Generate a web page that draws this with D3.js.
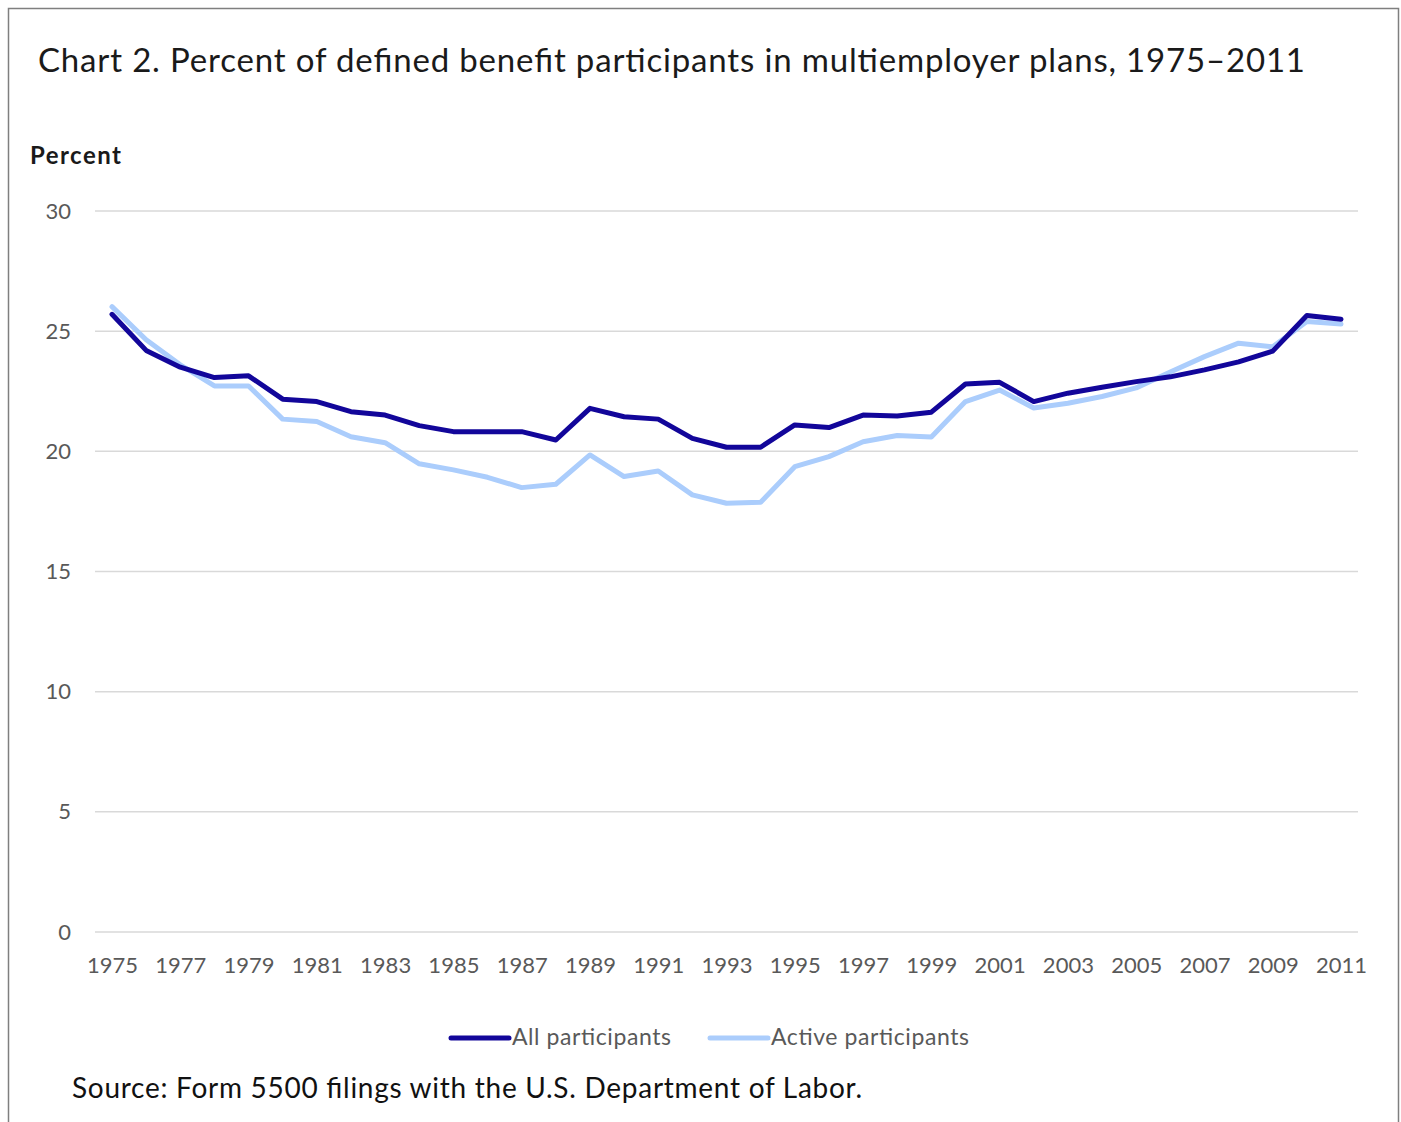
<!DOCTYPE html>
<html>
<head>
<meta charset="utf-8">
<script src="https://cdn.jsdelivr.net/npm/d3@7"></script>
<style>
  body { margin: 0; background: #fff; }
  .axis path { display: none; }
  .axis text { fill: #595959; font-family: Lato, 'Open Sans', sans-serif; font-size: 22px; }
</style>
</head>
<body>
<div id="chart-area"></div>
<script>
// DATA
const years = d3.range(1975, 2012)
const allParticipants = [
  25.7, 24.2, 23.5, 23.07, 23.14, 22.17, 22.07, 21.65, 21.51, 21.07,
  20.82, 20.82, 20.82, 20.47, 21.79, 21.44, 21.34, 20.54, 20.17, 20.17,
  21.1, 20.99, 21.51, 21.47, 21.63, 22.8, 22.87, 22.07, 22.42, 22.67,
  22.9, 23.1, 23.39, 23.72, 24.17, 25.65, 25.5
]
const activeParticipants = [
  26.02, 24.64, 23.6, 22.72, 22.72, 21.34, 21.24, 20.61, 20.36, 19.48,
  19.23, 18.92, 18.49, 18.63, 19.85, 18.95, 19.18, 18.19, 17.84, 17.88,
  19.36, 19.78, 20.4, 20.66, 20.6, 22.07, 22.55, 21.8, 22.0, 22.28,
  22.64, 23.3, 23.94, 24.5, 24.35, 25.4, 25.3
]
const yTicks = [0, 5, 10, 15, 20, 25, 30]
const xTicks = d3.range(1975, 2012, 2)
const seriesNames = ['All participants', 'Active participants']
const seriesColors = ['#12069a', '#abcdfc']

const WIDTH = 1401
const HEIGHT = 1122

const svg = d3.select('#chart-area').append('svg')
  .attr('width', WIDTH)
  .attr('height', HEIGHT)

// frame
svg.append('rect')
  .attr('x', 8.5).attr('y', 8.5)
  .attr('width', 1390).attr('height', 1130)
  .attr('fill', '#fff')
  .attr('stroke', '#7f7f7f')
  .attr('stroke-width', 1.5)

// TITLE
svg.append('text')
  .attr('x', 38)
  .attr('y', 72)
  .attr('font-family', 'Lato, sans-serif')
  .attr('font-size', '33px')
  .attr('fill', '#1a1a1a')
  .attr('textLength', 1267)
  .attr('lengthAdjust', 'spacing')
  .text('Chart 2. Percent of defined benefit participants in multiemployer plans, 1975–2011')

svg.append('text')
  .attr('x', 30)
  .attr('y', 164)
  .attr('font-family', 'Lato, sans-serif')
  .attr('font-weight', 'bold')
  .attr('font-size', '24px')
  .attr('fill', '#1a1a1a')
  .attr('textLength', 91)
  .attr('lengthAdjust', 'spacing')
  .text('Percent')

// SCALES
const x = d3.scaleLinear()
  .domain([1975, 2011])
  .range([112, 1341])
const y = d3.scaleLinear()
  .domain([0, 30])
  .range([932, 211])

// GRIDLINES
svg.append('g')
  .selectAll('line')
  .data(yTicks)
  .enter().append('line')
  .attr('x1', 95).attr('x2', 1358)
  .attr('y1', d => y(d)).attr('y2', d => y(d))
  .attr('stroke', '#d9d9d9')
  .attr('stroke-width', 1.5)

// AXES
const yAxis = d3.axisLeft(y)
  .tickValues(yTicks)
  .tickSize(0)
  .tickPadding(0)
svg.append('g')
  .attr('class', 'axis')
  .attr('transform', 'translate(71, 0)')
  .call(yAxis)

const xAxis = d3.axisBottom(x)
  .tickValues(xTicks)
  .tickFormat(d3.format('d'))
  .tickSize(0)
  .tickPadding(0)
svg.append('g')
  .attr('class', 'axis')
  .attr('transform', 'translate(0, 957)')
  .call(xAxis)

// LINES
const line = d3.line()
  .x((d, i) => x(years[i]))
  .y(d => y(d))

svg.append('path')
  .datum(activeParticipants)
  .attr('d', line)
  .attr('fill', 'none')
  .attr('stroke', seriesColors[1])
  .attr('stroke-width', 5)
  .attr('stroke-linejoin', 'round')
  .attr('stroke-linecap', 'round')

svg.append('path')
  .datum(allParticipants)
  .attr('d', line)
  .attr('fill', 'none')
  .attr('stroke', seriesColors[0])
  .attr('stroke-width', 5)
  .attr('stroke-linejoin', 'round')
  .attr('stroke-linecap', 'round')

// LEGEND
const legendX = [451, 710]
const legendTextWidth = [159, 198]
const legend = svg.append('g')
seriesNames.forEach((name, i) => {
  legend.append('line')
    .attr('x1', legendX[i]).attr('x2', legendX[i] + 58)
    .attr('y1', 1038).attr('y2', 1038)
    .attr('stroke', seriesColors[i])
    .attr('stroke-width', 5)
    .attr('stroke-linecap', 'round')
  legend.append('text')
    .attr('x', legendX[i] + 61)
    .attr('y', 1045)
    .attr('font-family', 'Lato, sans-serif')
    .attr('font-size', '23px')
    .attr('fill', '#595959')
    .attr('textLength', legendTextWidth[i])
    .attr('lengthAdjust', 'spacing')
    .text(name)
})

// SOURCE
svg.append('text')
  .attr('x', 72)
  .attr('y', 1098)
  .attr('font-family', 'Lato, sans-serif')
  .attr('font-size', '28px')
  .attr('fill', '#111')
  .attr('textLength', 790)
  .attr('lengthAdjust', 'spacing')
  .text('Source: Form 5500 filings with the U.S. Department of Labor.')
</script>
</body>
</html>
